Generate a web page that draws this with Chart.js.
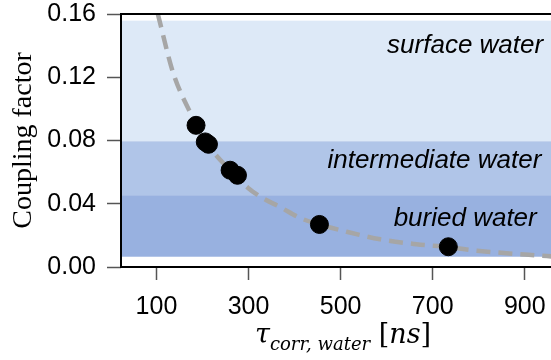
<!DOCTYPE html>
<html>
<head>
<meta charset="utf-8">
<script src="https://cdn.jsdelivr.net/npm/chart.js@4.4.1/dist/chart.umd.min.js"></script>
<style>
  html, body { margin: 0; padding: 0; background: #fff; }
  #wrap { width: 551px; height: 360px; }
</style>
</head>
<body>
<div id="wrap"><canvas id="chart" width="551" height="360"></canvas></div>
<script>
// measured points
const tauValues = [186, 206, 213, 260, 276, 454, 734];
const couplingValues = [0.0896, 0.0791, 0.0776, 0.0612, 0.0580, 0.0269, 0.0128];

// dashed fit curve
const fitTau = [103, 136, 173, 213, 264, 299, 331, 368, 412, 453, 513, 586, 665, 734, 796, 948, 963];
const fitCoupling = [0.160, 0.123, 0.098, 0.077, 0.060, 0.050, 0.0435, 0.038, 0.031, 0.027, 0.0223, 0.0175, 0.0144, 0.0125, 0.0103, 0.0069, 0.0066];

// water regions
const bandNames = ['surface water', 'intermediate water', 'buried water'];
const bandLow = [0.0795, 0.0454, 0.0065];
const bandHigh = [0.1558, 0.0795, 0.0454];
const bandColors = ['#dde9f7', '#b0c5e8', '#98b1e0'];
const labelTau = [940, 936, 926];
const labelCoupling = [0.1356, 0.0623, 0.0259];

const xTicks = [100, 300, 500, 700, 900];
const yTicks = [0.00, 0.04, 0.08, 0.12, 0.16];

var bandsPlugin = {
    id: 'bands',
    beforeDatasetsDraw(chart) {
        var ctx = chart.ctx;
        var area = chart.chartArea;
        var y = chart.scales.y;
        ctx.save();
        bandNames.forEach((name, i) => {
            var top = y.getPixelForValue(bandHigh[i]);
            var bottom = y.getPixelForValue(bandLow[i]);
            ctx.fillStyle = bandColors[i];
            ctx.fillRect(area.left + 1, top, area.right - area.left + 5, bottom - top);
        });
        ctx.restore();
    },
    afterDatasetsDraw(chart) {
        var ctx = chart.ctx;
        var area = chart.chartArea;
        var x = chart.scales.x;
        var y = chart.scales.y;
        ctx.save();
        // band labels
        ctx.fillStyle = '#000';
        ctx.font = 'italic 26px "Liberation Sans", Arial, sans-serif';
        ctx.textAlign = 'right';
        ctx.textBaseline = 'alphabetic';
        bandNames.forEach((name, i) => {
            ctx.fillText(name, x.getPixelForValue(labelTau[i]), y.getPixelForValue(labelCoupling[i]));
        });
        // frame: left, top, bottom
        ctx.strokeStyle = '#000';
        ctx.lineWidth = 2;
        ctx.beginPath();
        ctx.moveTo(area.right + 10, area.top);
        ctx.lineTo(area.left, area.top);
        ctx.lineTo(area.left, area.bottom);
        ctx.lineTo(area.right + 10, area.bottom);
        ctx.stroke();
        ctx.restore();
    },
    afterDraw(chart) {
        // x axis title: tau with subscript
        var ctx = chart.ctx;
        ctx.save();
        ctx.fillStyle = '#000';
        ctx.textBaseline = 'alphabetic';
        ctx.textAlign = 'left';
        var mainFont = 'italic 27px "DejaVu Serif", "Liberation Serif", serif';
        var subFont = 'italic 18px "DejaVu Serif", "Liberation Serif", serif';
        var brFont = '27px "DejaVu Serif", "Liberation Serif", serif';
        var parts = [
            { t: '\u03C4', f: mainFont, dy: 0 },
            { t: 'corr, water', f: subFont, dy: 7 },
            { t: ' [', f: brFont, dy: 0 },
            { t: 'ns', f: mainFont, dy: 0 },
            { t: ']', f: brFont, dy: 0 }
        ];
        var total = 0;
        parts.forEach(p => { ctx.font = p.f; p.w = ctx.measureText(p.t).width; total += p.w; });
        var px = 343 - total / 2;
        var base = 343;
        parts.forEach(p => {
            ctx.font = p.f;
            ctx.fillText(p.t, px, base + p.dy);
            px += p.w;
        });
        ctx.restore();
    }
};

var ctx = document.getElementById('chart').getContext('2d');
var chart = new Chart(ctx, {
    type: 'scatter',
    data: {
        datasets: [{
            label: 'measured',
            data: tauValues.map((t, i) => ({ x: t, y: couplingValues[i] })),
            backgroundColor: '#000',
            borderColor: '#000',
            pointRadius: 9,
            pointHoverRadius: 9,
            order: 0
        }, {
            type: 'line',
            label: 'fit',
            data: fitTau.map((t, i) => ({ x: t, y: fitCoupling[i] })),
            borderColor: '#a6a6a6',
            borderWidth: 4.5,
            borderDash: [14, 8],
            pointRadius: 0,
            fill: false,
            cubicInterpolationMode: 'monotone',
            order: 1
        }]
    },
    options: {
        responsive: false,
        animation: false,
        layout: { autoPadding: false, padding: { top: 14, right: 0, left: 0, bottom: 0 } },
        plugins: {
            legend: { display: false },
            tooltip: { enabled: false }
        },
        scales: {
            x: {
                type: 'linear',
                min: 23,
                max: 957,
                afterBuildTicks: function (axis) {
                    axis.ticks = xTicks.map(v => ({ value: v }));
                },
                afterFit: function (axis) {
                    axis.height = 93;
                    axis.paddingLeft = 0;
                    axis.paddingRight = 0;
                },
                grid: {
                    drawOnChartArea: false,
                    drawTicks: true,
                    tickLength: 13,
                    tickColor: '#555',
                    tickWidth: 1.5
                },
                border: { display: false },
                ticks: {
                    color: '#000',
                    padding: 12,
                    maxRotation: 0,
                    font: { family: '"Liberation Sans", Arial, sans-serif', size: 25 }
                }
            },
            y: {
                type: 'linear',
                min: 0,
                max: 0.16,
                afterBuildTicks: function (axis) {
                    axis.ticks = yTicks.map(v => ({ value: v }));
                },
                afterFit: function (axis) {
                    axis.width = 121;
                    axis.paddingTop = 0;
                    axis.paddingBottom = 0;
                },
                grid: {
                    drawOnChartArea: false,
                    drawTicks: true,
                    tickLength: 14,
                    tickColor: '#555',
                    tickWidth: 1.5
                },
                border: { display: false },
                ticks: {
                    color: '#000',
                    padding: 11,
                    callback: function (value) { return value.toFixed(2); },
                    font: { family: '"Liberation Sans", Arial, sans-serif', size: 25 }
                },
                title: {
                    display: true,
                    text: 'Coupling factor',
                    color: '#000',
                    padding: { top: 7, bottom: 0 },
                    font: { family: '"Liberation Serif", serif', size: 28 }
                }
            }
        }
    },
    plugins: [bandsPlugin]
});
</script>
</body>
</html>
